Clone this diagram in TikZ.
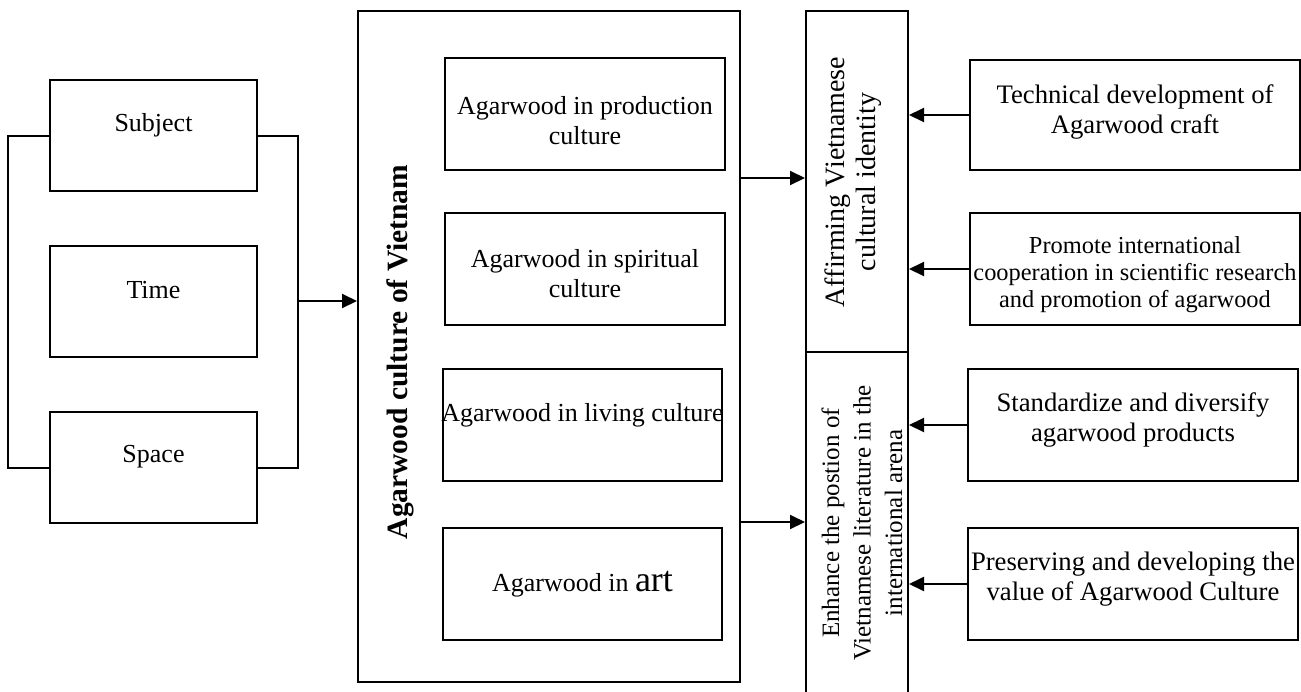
\documentclass[tikz,border=0pt]{standalone}
\usepackage{fontspec}
\setmainfont{Liberation Serif}
\usetikzlibrary{arrows.meta}
\begin{document}
\begin{tikzpicture}[x=1pt,y=-1pt,
  box/.style={draw,line width=2pt,rectangle,inner sep=0pt},
  txt/.style={inner sep=0pt,align=center,font=\fontsize{26}{30}\selectfont},
  rtxt/.style={inner sep=0pt,align=center,font=\fontsize{26.7}{30.5}\selectfont},
  arr/.style={line width=2pt,-{Triangle[length=15pt,width=14pt]}},
  lin/.style={line width=2pt}]
\useasboundingbox (0,0) rectangle (1301,691);
% left boxes
\node[box,minimum width=207pt,minimum height=111pt] (subj) at (153.5,135.5) {};
\node[box,minimum width=207pt,minimum height=111pt] (time) at (153.5,301.5) {};
\node[box,minimum width=207pt,minimum height=111pt] (space) at (153.5,467.5) {};
\node[txt] (subjt) at ([yshift=10.5pt]subj.center) {Subject};
\node[txt] (timet) at ([yshift=11pt]time.center) {Time};
\node[txt] (spacet) at ([yshift=10.5pt]space.center) {Space};
% main box
\node[box,minimum width=382pt,minimum height=671pt] (main) at (549,346.5) {};
\node[rotate=90,inner sep=0pt,font=\fontsize{29.5}{33}\selectfont\bfseries] (title) at (400,352) {Agarwood culture of Vietnam};
\node[box,minimum width=280pt,minimum height=112pt] (prod) at (585,114) {};
\node[box,minimum width=280pt,minimum height=112pt] (spir) at (585,269) {};
\node[box,minimum width=279pt,minimum height=112pt] (liv) at (582.5,425) {};
\node[box,minimum width=279pt,minimum height=112pt] (art) at (582.5,584) {};
\node[txt] (prodt) at ([yshift=-7pt]prod.center) {Agarwood in production\\culture};
\node[txt] (spirt) at ([yshift=-5pt]spir.center) {Agarwood in spiritual\\culture};
\node[txt] (livt) at ([yshift=10pt]liv.center) {Agarwood in living culture};
\node[txt] (artt) at (art.center) {Agarwood in {\fontsize{36}{40}\selectfont art}};
% right column
\node[box,minimum width=102pt,minimum height=341pt] (up) at (857,181.5) {};
\node[box,minimum width=102pt,minimum height=345pt] (low) at (857,524.5) {};
\node[rotate=90,inner sep=0pt,align=center,font=\fontsize{28}{31}\selectfont] (uptext) at (853,182) {Affirming Vietnamese\\cultural identity};
\node[rotate=90,inner sep=0pt,align=center,font=\fontsize{25}{31.5}\selectfont] (lowtext) at (862,523) {Enhance the postion of\\Vietnamese literature in the\\international arena};
% right boxes
\node[box,minimum width=330pt,minimum height=110pt] (tech) at (1135,115) {};
\node[box,minimum width=330pt,minimum height=112pt] (prom) at (1135,269) {};
\node[box,minimum width=330pt,minimum height=112pt] (std) at (1133,425) {};
\node[box,minimum width=330pt,minimum height=112pt] (pres) at (1133,584) {};
\node[rtxt] (techt) at ([yshift=3pt]tech.center) {Technical development of\\Agarwood craft};
\node[inner sep=0pt,align=center,font=\fontsize{24.4}{27}\selectfont] (promt) at ([yshift=-6pt]prom.center) {Promote international\\cooperation in scientific research\\and promotion of agarwood};
\node[rtxt] (stdt) at ([yshift=5pt]std.center) {Standardize and diversify\\agarwood products};
\node[rtxt] (prest) at ([yshift=5pt]pres.center) {Preserving and developing the\\value of Agarwood Culture};
% brackets
\coordinate (j) at (298,301);
\draw[lin] (subj.west) -- ++(-41,0) |- (space.west);
\draw[lin] (subj.east) -- (j |- subj.east) -- (j |- space.east) -- (space.east);
\draw[arr] (j) -- (main.west |- j);
% middle arrows
\draw[arr] (main.east |- 0,178) -- (up.west |- 0,178);
\draw[arr] (main.east |- 0,522) -- (low.west |- 0,522);
% right arrows
\draw[arr] (tech.west) -- (tech.west -| up.east);
\draw[arr] (prom.west) -- (prom.west -| up.east);
\draw[arr] (std.west) -- (std.west -| up.east);
\draw[arr] (pres.west) -- (pres.west -| up.east);
\end{tikzpicture}
\end{document}
